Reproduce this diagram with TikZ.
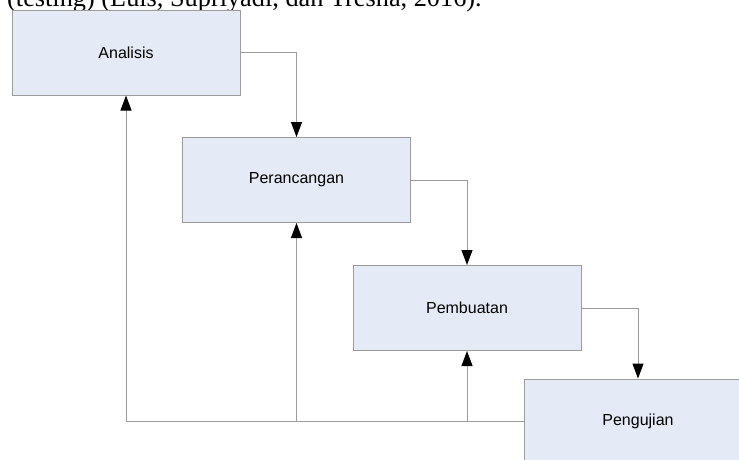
\documentclass[tikz,border=0pt]{standalone}
\usepackage{fontspec}
\setmainfont{Liberation Serif}
\newfontfamily\arialfont{Liberation Sans}
\usetikzlibrary{arrows.meta}
\definecolor{boxfill}{HTML}{E5EBF6}
\definecolor{linegray}{HTML}{9C9C9C}

\begin{document}
\begin{tikzpicture}[x=1pt, y=-1pt,
    phase/.style={draw=linegray, line width=1pt, fill=boxfill, minimum width=228pt,
        minimum height=85pt, inner sep=0pt, font=\arialfont\fontsize{16}{19}\selectfont},
    flow/.style={draw=linegray, line width=1pt, -{Triangle[length=15pt, width=11pt, color=black]}}]
    \useasboundingbox (0, 0) rectangle (739, 459);
    \clip (0, 0) rectangle (739, 459);

    % sisa kalimat di atas gambar
    \node[anchor=base west, inner sep=0pt, font=\fontsize{26.3}{30}\selectfont] (cite) at (7, 6)
        {(testing) (Luis, Supriyadi, dan Tresna, 2016).};

    \node[phase] (ana) at (126, 52.5) {Analisis};
    \node[phase] (per) at (296.5, 180) {Perancangan};
    \node[phase] (pem) at (467, 308) {Pembuatan};
    \node[phase] (uji) at (638, 421.5) {Pengujian};

    % alur maju
    \draw[flow] (ana.east) -| (per.north);
    \draw[flow] (per.east) -| (pem.north);
    \draw[flow] (pem.east) -| (uji.north);

    % alur balik
    \draw[flow] (uji.west) -| (ana.south);
    \draw[flow] (per.south |- uji.west) -- (per.south);
    \draw[flow] (pem.south |- uji.west) -- (pem.south);
\end{tikzpicture}
\end{document}
